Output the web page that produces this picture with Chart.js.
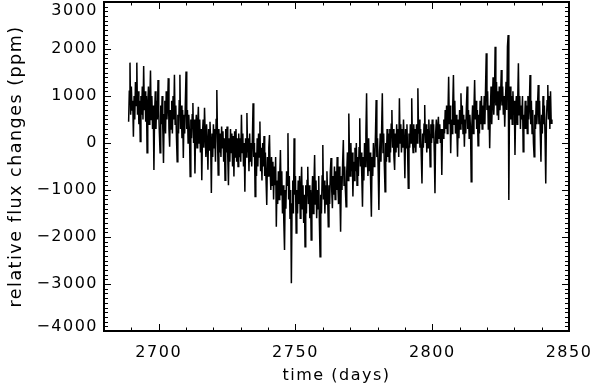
<!DOCTYPE html>
<html>
<head>
<meta charset="utf-8">
<script src="https://cdn.jsdelivr.net/npm/chart.js@4.4.1/dist/chart.umd.min.js"></script>
<style>
html,body{margin:0;padding:0;background:#fff;}
#c{display:block;width:592px;height:388px;}
</style>
</head>
<body>
<canvas id="c" width="592" height="388"></canvas>
<script>
// ---- data, 0.25-day sampling ----
const times = [
2689,2689.25,2689.5,2689.75,2690,2690.25,2690.5,2690.75,2691,2691.25,2691.5,2691.75,2692,2692.25,2692.5,2692.75,2693,2693.25,2693.5,2693.75,
2694,2694.25,2694.5,2694.75,2695,2695.25,2695.5,2695.75,2696,2696.25,2696.5,2696.75,2697,2697.25,2697.5,2697.75,2698,2698.25,2698.5,2698.75,
2699,2699.25,2699.5,2699.75,2700,2700.25,2700.5,2700.75,2701,2701.25,2701.5,2701.75,2702,2702.25,2702.5,2702.75,2703,2703.25,2703.5,2703.75,
2704,2704.25,2704.5,2704.75,2705,2705.25,2705.5,2705.75,2706,2706.25,2706.5,2706.75,2707,2707.25,2707.5,2707.75,2708,2708.25,2708.5,2708.75,
2709,2709.25,2709.5,2709.75,2710,2710.25,2710.5,2710.75,2711,2711.25,2711.5,2711.75,2712,2712.25,2712.5,2712.75,2713,2713.25,2713.5,2713.75,
2714,2714.25,2714.5,2714.75,2715,2715.25,2715.5,2715.75,2716,2716.25,2716.5,2716.75,2717,2717.25,2717.5,2717.75,2718,2718.25,2718.5,2718.75,
2719,2719.25,2719.5,2719.75,2720,2720.25,2720.5,2720.75,2721,2721.25,2721.5,2721.75,2722,2722.25,2722.5,2722.75,2723,2723.25,2723.5,2723.75,
2724,2724.25,2724.5,2724.75,2725,2725.25,2725.5,2725.75,2726,2726.25,2726.5,2726.75,2727,2727.25,2727.5,2727.75,2728,2728.25,2728.5,2728.75,
2729,2729.25,2729.5,2729.75,2730,2730.25,2730.5,2730.75,2731,2731.25,2731.5,2731.75,2732,2732.25,2732.5,2732.75,2733,2733.25,2733.5,2733.75,
2734,2734.25,2734.5,2734.75,2735,2735.25,2735.5,2735.75,2736,2736.25,2736.5,2736.75,2737,2737.25,2737.5,2737.75,2738,2738.25,2738.5,2738.75,
2739,2739.25,2739.5,2739.75,2740,2740.25,2740.5,2740.75,2741,2741.25,2741.5,2741.75,2742,2742.25,2742.5,2742.75,2743,2743.25,2743.5,2743.75,
2744,2744.25,2744.5,2744.75,2745,2745.25,2745.5,2745.75,2746,2746.25,2746.5,2746.75,2747,2747.25,2747.5,2747.75,2748,2748.25,2748.5,2748.75,
2749,2749.25,2749.5,2749.75,2750,2750.25,2750.5,2750.75,2751,2751.25,2751.5,2751.75,2752,2752.25,2752.5,2752.75,2753,2753.25,2753.5,2753.75,
2754,2754.25,2754.5,2754.75,2755,2755.25,2755.5,2755.75,2756,2756.25,2756.5,2756.75,2757,2757.25,2757.5,2757.75,2758,2758.25,2758.5,2758.75,
2759,2759.25,2759.5,2759.75,2760,2760.25,2760.5,2760.75,2761,2761.25,2761.5,2761.75,2762,2762.25,2762.5,2762.75,2763,2763.25,2763.5,2763.75,
2764,2764.25,2764.5,2764.75,2765,2765.25,2765.5,2765.75,2766,2766.25,2766.5,2766.75,2767,2767.25,2767.5,2767.75,2768,2768.25,2768.5,2768.75,
2769,2769.25,2769.5,2769.75,2770,2770.25,2770.5,2770.75,2771,2771.25,2771.5,2771.75,2772,2772.25,2772.5,2772.75,2773,2773.25,2773.5,2773.75,
2774,2774.25,2774.5,2774.75,2775,2775.25,2775.5,2775.75,2776,2776.25,2776.5,2776.75,2777,2777.25,2777.5,2777.75,2778,2778.25,2778.5,2778.75,
2779,2779.25,2779.5,2779.75,2780,2780.25,2780.5,2780.75,2781,2781.25,2781.5,2781.75,2782,2782.25,2782.5,2782.75,2783,2783.25,2783.5,2783.75,
2784,2784.25,2784.5,2784.75,2785,2785.25,2785.5,2785.75,2786,2786.25,2786.5,2786.75,2787,2787.25,2787.5,2787.75,2788,2788.25,2788.5,2788.75,
2789,2789.25,2789.5,2789.75,2790,2790.25,2790.5,2790.75,2791,2791.25,2791.5,2791.75,2792,2792.25,2792.5,2792.75,2793,2793.25,2793.5,2793.75,
2794,2794.25,2794.5,2794.75,2795,2795.25,2795.5,2795.75,2796,2796.25,2796.5,2796.75,2797,2797.25,2797.5,2797.75,2798,2798.25,2798.5,2798.75,
2799,2799.25,2799.5,2799.75,2800,2800.25,2800.5,2800.75,2801,2801.25,2801.5,2801.75,2802,2802.25,2802.5,2802.75,2803,2803.25,2803.5,2803.75,
2804,2804.25,2804.5,2804.75,2805,2805.25,2805.5,2805.75,2806,2806.25,2806.5,2806.75,2807,2807.25,2807.5,2807.75,2808,2808.25,2808.5,2808.75,
2809,2809.25,2809.5,2809.75,2810,2810.25,2810.5,2810.75,2811,2811.25,2811.5,2811.75,2812,2812.25,2812.5,2812.75,2813,2813.25,2813.5,2813.75,
2814,2814.25,2814.5,2814.75,2815,2815.25,2815.5,2815.75,2816,2816.25,2816.5,2816.75,2817,2817.25,2817.5,2817.75,2818,2818.25,2818.5,2818.75,
2819,2819.25,2819.5,2819.75,2820,2820.25,2820.5,2820.75,2821,2821.25,2821.5,2821.75,2822,2822.25,2822.5,2822.75,2823,2823.25,2823.5,2823.75,
2824,2824.25,2824.5,2824.75,2825,2825.25,2825.5,2825.75,2826,2826.25,2826.5,2826.75,2827,2827.25,2827.5,2827.75,2828,2828.25,2828.5,2828.75,
2829,2829.25,2829.5,2829.75,2830,2830.25,2830.5,2830.75,2831,2831.25,2831.5,2831.75,2832,2832.25,2832.5,2832.75,2833,2833.25,2833.5,2833.75,
2834,2834.25,2834.5,2834.75,2835,2835.25,2835.5,2835.75,2836,2836.25,2836.5,2836.75,2837,2837.25,2837.5,2837.75,2838,2838.25,2838.5,2838.75,
2839,2839.25,2839.5,2839.75,2840,2840.25,2840.5,2840.75,2841,2841.25,2841.5,2841.75,2842,2842.25,2842.5,2842.75,2843,2843.25,2843.5,2843.75
];
const fluxPpm = [
450,1100,1710,600,1200,700,900,135,1000,500,1300,800,1710,600,1100,400,900,30,1000,600,
1200,500,1640,700,1100,450,1000,-210,800,1200,400,900,1540,500,1000,300,800,-575,600,1100,
300,900,500,1340,700,200,-210,800,400,1000,300,-425,600,900,200,1100,500,800,1380,300,
-80,700,300,900,200,1000,500,1450,400,800,100,-400,600,200,900,1450,300,800,100,700,
-320,600,200,900,1520,300,700,0,600,200,-715,500,100,600,850,0,500,-650,300,600,
-100,400,770,0,500,-200,300,-790,200,500,-100,750,200,-300,400,0,-570,300,-150,450,
0,-1065,200,-300,400,-100,300,-400,500,1130,100,-680,300,-200,200,-300,350,-100,250,-400,
100,-790,300,-200,350,-300,-900,100,-400,300,-200,200,-500,150,-715,250,-300,300,-400,100,
-500,200,-300,100,-400,600,-200,200,-500,0,-1035,100,-300,640,-200,100,-600,200,-400,0,
-500,100,845,-300,0,-1140,-200,-700,100,-500,200,-300,455,-600,-100,-800,0,-500,150,-700,
-200,-800,-1320,-300,-700,-100,170,-600,-1000,-300,-900,-400,-1200,-500,-900,-300,-1780,-800,-1300,-600,
-1200,-700,-150,-1100,-600,-1500,-900,-1700,-2277,-1000,-1400,-600,-900,210,-1200,-700,-1600,-1000,-2985,-1300,
-800,-1500,100,-1100,-700,-1915,-1000,-1500,-800,-1300,-700,-1600,-1000,-505,-1400,-900,-1700,-1100,-2207,-900,
-1500,-800,-505,-1300,-900,-1600,-1000,-2065,-1200,-700,-1500,-900,-255,-1300,-800,-1600,-1000,-1400,-700,-1700,
-2420,-1100,-1500,-700,-43,-1200,-800,-1500,-900,-1300,-600,-1100,-1780,-900,-1300,-600,-320,-1000,-1390,-700,
-1100,-500,-1200,-600,-1000,-300,-900,-1300,-500,-1100,-1890,-700,-1000,-400,64,-900,-500,-1000,-1355,-600,
-200,-800,630,-300,-700,0,-600,-200,-1140,-400,-800,-100,-600,0,-900,-300,-700,-100,525,-500,
-200,-700,-1355,-300,-800,0,-500,200,1057,-300,-700,100,-600,-200,-900,-1570,-300,-700,0,-500,
-400,200,915,-300,100,-600,-1425,-200,200,-400,300,1057,-200,200,-500,-1035,0,-400,300,-300,
200,-400,300,-200,400,700,-100,300,-300,-575,200,-200,400,-100,300,-300,950,0,400,-200,
300,-100,500,0,-750,300,-100,400,-200,-965,200,-100,400,0,950,100,-200,400,-100,300,
-200,400,0,1163,200,500,-100,300,-300,-860,200,-100,400,810,0,400,-200,300,-100,500,
100,-505,400,0,500,100,400,-200,-1070,200,500,0,300,560,100,400,0,300,-680,300,
100,500,200,700,300,800,200,600,1410,400,800,-220,500,200,800,1447,400,900,200,600,
300,-290,500,100,700,300,1057,400,800,200,600,-78,500,200,800,1200,300,700,100,600,
300,-822,400,800,200,700,1340,500,900,300,700,-60,600,200,900,400,1000,300,800,400,
1000,400,1200,1910,700,1100,300,800,-113,700,1200,400,900,1400,600,1000,2050,800,1300,600,
1100,490,1200,700,1000,1553,800,1200,600,1000,347,900,1300,700,2050,2298,-1213,800,1200,500,
1000,400,1100,600,900,-255,700,1000,400,900,1696,600,1000,300,800,500,1000,-185,600,300,
900,300,800,200,1000,500,800,1447,400,900,200,700,0,-290,600,300,900,400,800,1234,
400,900,200,-398,600,200,1000,400,800,100,-860,500,900,1234,500,1000,300,1100,420,500
];
const xMajorTicks = [2700, 2750, 2800, 2850];
const xTickLabels = ['2700', '2750', '2800', '2850'];
const yMajorTicks = [-4000, -3000, -2000, -1000, 0, 1000, 2000, 3000];
const yTickLabels = ['\u22124000', '\u22123000', '\u22122000', '\u22121000', '0', '1000', '2000', '3000'];
const xTitle = 'time (days)';
const yTitle = 'relative flux changes (ppm)';

const LS = '1.5px';
const FONT = 'DejaVu Sans';

const xMinor = []; for (let v = 2680; v <= 2850; v += 10) xMinor.push(v);
const yMinor = []; for (let v = -4000; v <= 3000; v += 100) yMinor.push(v);

const frameTicks = {
  id: 'frameTicks',
  beforeLayout(c) { c.ctx.letterSpacing = LS; },
  beforeDraw(c) { c.ctx.letterSpacing = LS; },
  afterDraw(c) {
    const { ctx, chartArea: a, scales: { x, y } } = c;
    ctx.save();
    ctx.letterSpacing = '0px';
    ctx.strokeStyle = '#000';
    ctx.lineWidth = 1;
    ctx.beginPath();
    xMinor.forEach(v => {
      const p = Math.round(x.getPixelForValue(v)) + 0.5;
      const L = xMajorTicks.includes(v) ? 7 : 3.5;
      ctx.moveTo(p, a.bottom); ctx.lineTo(p, a.bottom - L);
      ctx.moveTo(p, a.top); ctx.lineTo(p, a.top + L);
    });
    yMinor.forEach(v => {
      const p = Math.round(y.getPixelForValue(v)) + 0.5;
      const L = yMajorTicks.includes(v) ? 7 : 4;
      ctx.moveTo(a.left, p); ctx.lineTo(a.left + L, p);
      ctx.moveTo(a.right, p); ctx.lineTo(a.right - L, p);
    });
    ctx.stroke();
    ctx.lineWidth = 2;
    ctx.strokeRect(a.left, a.top, a.right - a.left, a.bottom - a.top);
    ctx.restore();
  }
};

new Chart(document.getElementById('c'), {
  type: 'line',
  data: {
    datasets: [{
      data: times.map((t, i) => ({ x: t, y: fluxPpm[i] })),
      borderColor: '#000',
      borderWidth: 1.5,
      pointRadius: 0,
      tension: 0,
      fill: false
    }]
  },
  options: {
    responsive: false,
    animation: false,
    events: [],
    layout: { padding: { top: 2, right: 23, left: 0, bottom: 0 } },
    plugins: { legend: { display: false }, tooltip: { enabled: false } },
    scales: {
      x: {
        type: 'linear', min: 2680, max: 2850,
        afterBuildTicks: s => { s.ticks = xMajorTicks.map(v => ({ value: v })); },
        afterFit: s => { s.height = 57; s.paddingLeft = 0; s.paddingRight = 0; },
        grid: { display: false, drawTicks: false },
        border: { display: false },
        ticks: {
          autoSkip: false, maxRotation: 0, padding: 12, color: '#000',
          font: { family: FONT, size: 16 },
          callback: v => xTickLabels[xMajorTicks.indexOf(v)]
        },
        title: { display: true, text: xTitle, color: '#000', font: { family: FONT, size: 16 }, padding: { top: 0, bottom: 3 } }
      },
      y: {
        type: 'linear', min: -4000, max: 3000,
        afterBuildTicks: s => { s.ticks = yMajorTicks.map(v => ({ value: v })); },
        afterFit: s => { s.width = 104; s.paddingTop = 0; s.paddingBottom = 0; },
        grid: { display: false, drawTicks: false },
        border: { display: false },
        ticks: {
          autoSkip: false, padding: 6, color: '#000',
          font: ctx => {
            const v = ctx.tick ? ctx.tick.value : 0;
            if (v === 3000) return { family: FONT, size: 16, lineHeight: 1.1 };
            if (v === -4000) return { family: FONT, size: 16, lineHeight: 0.55 };
            return { family: FONT, size: 16 };
          },
          callback: v => {
            const s = yTickLabels[yMajorTicks.indexOf(v)];
            if (v === 3000) return ['', s];
            if (v === -4000) return [s, ''];
            return s;
          }
        },
        title: { display: true, text: yTitle, color: '#000', font: { family: FONT, size: 17.5 }, padding: { top: 6, bottom: 0 } }
      }
    }
  },
  plugins: [frameTicks]
});
</script>
</body>
</html>
